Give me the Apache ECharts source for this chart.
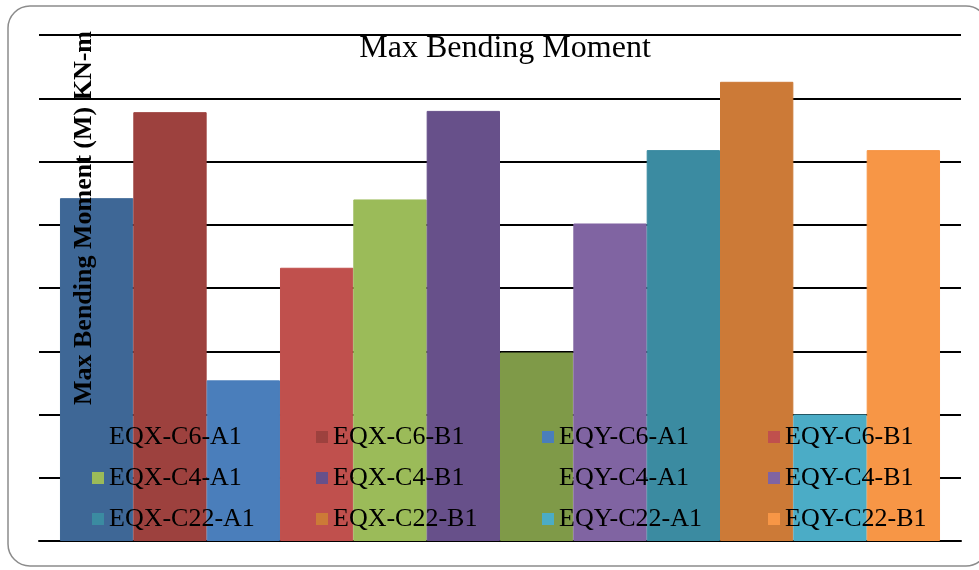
<!DOCTYPE html>
<html>
<head>
<meta charset="utf-8">
<script src="https://cdn.jsdelivr.net/npm/echarts@6/dist/echarts.min.js"></script>
<style>
  html, body { margin: 0; padding: 0; background: #fff; }
  #main { width: 979px; height: 570px; }
</style>
</head>
<body>
<div id="main"></div>
<script>
// bar order left to right
var seriesNames = ['EQX-C6-A1', 'EQX-C6-B1', 'EQY-C6-A1', 'EQY-C6-B1',
                   'EQX-C4-A1', 'EQX-C4-B1', 'EQY-C4-A1', 'EQY-C4-B1',
                   'EQX-C22-A1', 'EQX-C22-B1', 'EQY-C22-A1', 'EQY-C22-B1'];
var seriesValues = [271, 339, 127, 216, 270, 340, 149, 251, 309, 363, 100, 309];
var seriesColors = ['#3e6796', '#9d413e', '#4a7ebb', '#c0504d',
                    '#9bbb59', '#67508a', '#7f9a48', '#8064a2',
                    '#3b8ba1', '#cc7a37', '#4bacc6', '#f79646'];
// legend columns as laid out in the picture
var legendCols = [
    ['EQX-C6-A1', 'EQX-C4-A1', 'EQX-C22-A1'],
    ['EQX-C6-B1', 'EQX-C4-B1', 'EQX-C22-B1'],
    ['EQY-C6-A1', 'EQY-C4-A1', 'EQY-C22-A1'],
    ['EQY-C6-B1', 'EQY-C4-B1', 'EQY-C22-B1']
];
var legendLeft = [92, 316, 542, 768];

var serif = '"Liberation Serif", "Times New Roman", serif';

var myChart = echarts.init(document.getElementById('main'));

var series = [];
for (var i = 0; i < seriesNames.length; i++) {
    series.push({
        name: seriesNames[i],
        type: 'bar',
        barGap: '0%',
        barCategoryGap: '4.55%',
        // thin border of the same colour hides the seams between bars
        itemStyle: { color: seriesColors[i], borderColor: seriesColors[i], borderWidth: 1 },
        data: [seriesValues[i]]
    });
}

var legends = [];
for (var c = 0; c < legendCols.length; c++) {
    legends.push({
        orient: 'vertical',
        left: legendLeft[c],
        top: 424,
        padding: 0,
        itemWidth: 12,
        itemHeight: 12,
        itemGap: 15,
        icon: 'rect',
        selectedMode: false,
        itemStyle: { borderWidth: 0 },
        textStyle: { fontFamily: serif, fontSize: 26, lineHeight: 26, color: '#000' },
        data: legendCols[c]
    });
}

var option = {
    backgroundColor: '#fff',
    animation: false,
    title: {
        text: 'Max Bending Moment',
        left: 500,
        top: 28,
        textAlign: 'center',
        textStyle: { fontFamily: serif, fontSize: 32, fontWeight: 'normal', color: '#000' }
    },
    legend: legends,
    grid: { left: 39, right: 18, top: 35, bottom: 29 },
    xAxis: {
        type: 'category',
        data: [''],
        axisLine: { lineStyle: { color: '#000', width: 2 } },
        axisTick: { show: false },
        axisLabel: { show: false }
    },
    yAxis: {
        type: 'value',
        min: 0,
        max: 400,
        interval: 50,
        axisLine: { show: false },
        axisTick: { show: false },
        axisLabel: { show: false },
        splitLine: { lineStyle: { color: '#000', width: 2 } }
    },
    graphic: [
        {
            type: 'rect',
            z: -10,
            shape: { x: 8, y: 6, width: 980, height: 560, r: 22 },
            style: { fill: 'none', stroke: '#8c8c8c', lineWidth: 1.5 }
        },
        {
            type: 'text',
            z: 100,
            x: 84,
            y: 218,
            rotation: Math.PI / 2,
            style: {
                text: 'Max Bending Moment (M) KN-m',
                fontFamily: serif,
                fontSize: 26,
                fontWeight: 'bold',
                fill: '#000',
                textAlign: 'center',
                textVerticalAlign: 'middle'
            }
        }
    ],
    series: series
};

myChart.setOption(option, true);
</script>
</body>
</html>
